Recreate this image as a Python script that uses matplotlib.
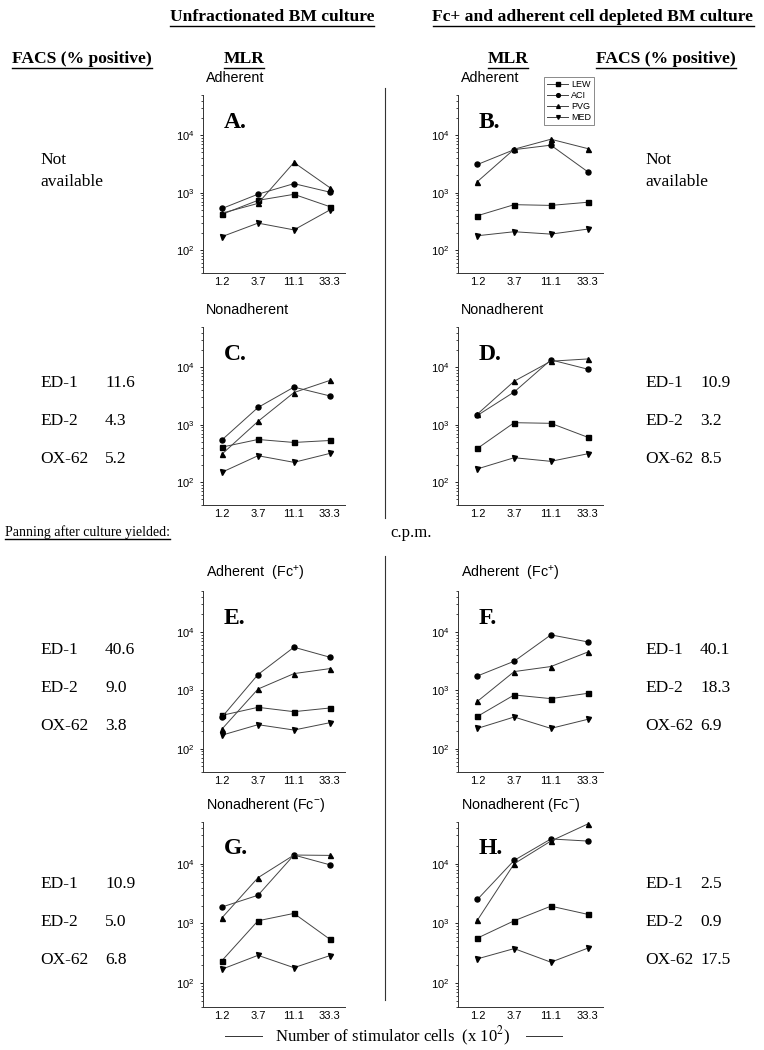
import matplotlib
matplotlib.use("Agg")
import matplotlib.pyplot as plt
from matplotlib.lines import Line2D
from matplotlib.ticker import LogLocator, LogFormatterSciNotation, NullFormatter

plt.rcParams['font.family'] = ['Liberation Sans', 'DejaVu Sans']
plt.rcParams['mathtext.fontset'] = 'custom'
plt.rcParams['mathtext.rm'] = 'Liberation Sans'
plt.rcParams['mathtext.it'] = 'Liberation Sans:italic'
plt.rcParams['mathtext.bf'] = 'Liberation Sans:bold'

W, H = 764, 1050
SERIF = 'Liberation Serif'

# stimulator cells (x 10^2)
doses = ['1.2', '3.7', '11.1', '33.3']
strains = ['LEW', 'ACI', 'PVG', 'MED']
markers = ['s', 'o', '^', 'v']

# c.p.m. per panel, rows follow strains
A_lew = [420, 735, 935, 570]
A_aci = [530, 940, 1435, 1020]
A_pvg = [440, 650, 3350, 1220]
A_med = [172, 295, 225, 500]

B_lew = [397, 618, 600, 680]
B_aci = [3090, 5600, 6700, 2320]
B_pvg = [1560, 5700, 8500, 5850]
B_med = [178, 209, 190, 232]

C_lew = [407, 552, 490, 530]
C_aci = [545, 1990, 4500, 3160]
C_pvg = [308, 1140, 3620, 5880]
C_med = [149, 288, 221, 316]

D_lew = [386, 1082, 1055, 605]
D_aci = [1450, 3700, 13400, 9250]
D_pvg = [1530, 5700, 12700, 13900]
D_med = [170, 266, 230, 311]

E_lew = [373, 511, 431, 498]
E_aci = [350, 1860, 5460, 3680]
E_pvg = [218, 1050, 1930, 2350]
E_med = [171, 258, 209, 279]

F_lew = [358, 832, 720, 887]
F_aci = [1760, 3140, 8880, 6740]
F_pvg = [648, 2090, 2550, 4500]
F_med = [223, 349, 223, 318]

G_lew = [240, 1110, 1475, 544]
G_aci = [1890, 2970, 14000, 9600]
G_pvg = [1250, 5840, 14000, 13800]
G_med = [172, 293, 182, 290]

H_lew = [570, 1110, 1950, 1425]
H_aci = [2530, 11400, 26000, 24000]
H_pvg = [1140, 10000, 24000, 46200]
H_med = [256, 380, 225, 385]

# FACS (% positive): ED-1, ED-2, OX-62
facs_labels = ['ED-1', 'ED-2', 'OX-62']
facs_C = ['11.6', '4.3', '5.2']
facs_D = ['10.9', '3.2', '8.5']
facs_E = ['40.6', '9.0', '3.8']
facs_F = ['40.1', '18.3', '6.9']
facs_G = ['10.9', '5.0', '6.8']
facs_H = ['2.5', '0.9', '17.5']


def fx(px):
    return px / W


def fy(py):
    return 1 - py / H


fig = plt.figure(figsize=(W / 100, H / 100), dpi=100)


def panel(left, right, top, bottom, data, letter, title):
    ax = fig.add_axes([fx(left), fy(bottom), fx(right - left), (bottom - top) / H])
    xs = range(len(doses))
    for vals, m, name in zip(data, markers, strains):
        ax.plot(xs, vals, color='#444444', lw=0.7, marker=m, ms=3.6,
                mfc='black', mec='black', label=name)
    ax.set_yscale('log')
    ax.set_ylim(40, 50000)
    ax.set_xlim(-0.53, 3.42)
    ax.set_xticks(list(xs))
    ax.set_xticklabels(doses, fontsize=8)
    ax.yaxis.set_major_locator(LogLocator(base=10, numticks=10))
    ax.yaxis.set_major_formatter(LogFormatterSciNotation())
    ax.yaxis.set_minor_locator(LogLocator(base=10, subs=range(2, 10), numticks=10))
    ax.yaxis.set_minor_formatter(NullFormatter())
    ax.set_yticks([100, 1000, 10000])
    ax.tick_params(axis='y', labelsize=8, length=2.5, width=0.6)
    ax.tick_params(axis='y', which='minor', length=1.5, width=0.5)
    ax.tick_params(axis='x', length=0, pad=3)
    for s in ['top', 'right']:
        ax.spines[s].set_visible(False)
    for s in ['left', 'bottom']:
        ax.spines[s].set_linewidth(0.7)
        ax.spines[s].set_color('#333333')
    fig.text(fx(left + 21), fy(top + 27), letter, fontsize=17, fontweight='bold',
             family=SERIF, ha='left', va='center')
    fig.text(fx(left + 3), fy(top - 17), title, fontsize=10.3, ha='left', va='center')
    return ax


rows = [(95, 273), (327, 505), (591, 772), (822, 1007)]
L = (203, 345)
R = (458, 603)

axA = panel(*L, *rows[0], [A_lew, A_aci, A_pvg, A_med], 'A.', 'Adherent')
axB = panel(*R, *rows[0], [B_lew, B_aci, B_pvg, B_med], 'B.', 'Adherent')
axC = panel(*L, *rows[1], [C_lew, C_aci, C_pvg, C_med], 'C.', 'Nonadherent')
axD = panel(*R, *rows[1], [D_lew, D_aci, D_pvg, D_med], 'D.', 'Nonadherent')
axE = panel(*L, *rows[2], [E_lew, E_aci, E_pvg, E_med], 'E.', 'Adherent  (Fc$^{+}$)')
axF = panel(*R, *rows[2], [F_lew, F_aci, F_pvg, F_med], 'F.', 'Adherent  (Fc$^{+}$)')
axG = panel(*L, *rows[3], [G_lew, G_aci, G_pvg, G_med], 'G.', 'Nonadherent (Fc$^{-}$)')
axH = panel(*R, *rows[3], [H_lew, H_aci, H_pvg, H_med], 'H.', 'Nonadherent (Fc$^{-}$)')

leg = axB.legend(loc='upper left', bbox_to_anchor=(fx(544), fy(77)),
                 bbox_transform=fig.transFigure, fontsize=6.5, frameon=True,
                 fancybox=False, handlelength=2.3, handletextpad=0.35,
                 borderpad=0.35, labelspacing=0.22, borderaxespad=0, markerscale=0.75)
leg.get_frame().set_edgecolor('#555555')
leg.get_frame().set_linewidth(0.6)

# headings
HS = 12.6
underlined = []
underlined.append(fig.text(fx(272), fy(17), 'Unfractionated BM culture', fontsize=HS,
                           fontweight='bold', family=SERIF, ha='center', va='center'))
underlined.append(fig.text(fx(593), fy(17), 'Fc+ and adherent cell depleted BM culture',
                           fontsize=HS, fontweight='bold', family=SERIF, ha='center', va='center'))
underlined.append(fig.text(fx(82), fy(59), 'FACS (% positive)', fontsize=HS,
                           fontweight='bold', family=SERIF, ha='center', va='center'))
underlined.append(fig.text(fx(244), fy(59), 'MLR', fontsize=HS,
                           fontweight='bold', family=SERIF, ha='center', va='center'))
underlined.append(fig.text(fx(508), fy(59), 'MLR', fontsize=HS,
                           fontweight='bold', family=SERIF, ha='center', va='center'))
underlined.append(fig.text(fx(666), fy(59), 'FACS (% positive)', fontsize=HS,
                           fontweight='bold', family=SERIF, ha='center', va='center'))
underlined.append(fig.text(fx(5), fy(532), 'Panning after culture yielded:', fontsize=10,
                           family=SERIF, ha='left', va='center'))
fig.text(fx(390), fy(533), 'c.p.m.', fontsize=12, family=SERIF, ha='left', va='center')

for x0 in (40, 645):
    fig.text(fx(x0), fy(160), 'Not', fontsize=12.5, family=SERIF, ha='left', va='center')
    fig.text(fx(x0), fy(182), 'available', fontsize=12.5, family=SERIF, ha='left', va='center')


def facs(x0, xv, ytop, vals):
    for i, (lab, v) in enumerate(zip(facs_labels, vals)):
        y = ytop + i * 38
        fig.text(fx(x0), fy(y), lab, fontsize=12.5, family=SERIF, ha='left', va='center')
        fig.text(fx(xv), fy(y), v, fontsize=12.5, family=SERIF, ha='left', va='center')


facs(40, 105, 383, facs_C)
facs(645, 700, 383, facs_D)
facs(40, 105, 650, facs_E)
facs(645, 700, 650, facs_F)
facs(40, 105, 884, facs_G)
facs(645, 700, 884, facs_H)

# bottom axis caption
fig.text(fx(393), fy(1036), 'Number of stimulator cells  (x 10$^{2}$)', fontsize=12,
         family=SERIF, ha='center', va='center', math_fontfamily='stix')
fig.add_artist(Line2D([fx(225), fx(262)], [fy(1036), fy(1036)], color='#333333', lw=0.7))
fig.add_artist(Line2D([fx(526), fx(562)], [fy(1036), fy(1036)], color='#333333', lw=0.7))

# divider between the two cultures
fig.add_artist(Line2D([fx(385), fx(385)], [fy(88), fy(518)], color='#333333', lw=0.8))
fig.add_artist(Line2D([fx(385), fx(385)], [fy(556), fy(1000)], color='#333333', lw=0.8))

# underline headings
fig.canvas.draw()
r = fig.canvas.get_renderer()
for t in underlined:
    bb = t.get_window_extent(renderer=r).transformed(fig.transFigure.inverted())
    yy = bb.y0 - 0.5 / H
    fig.add_artist(Line2D([bb.x0, bb.x1], [yy, yy], color='black', lw=1.0))

fig.savefig('out.png', dpi=100)
